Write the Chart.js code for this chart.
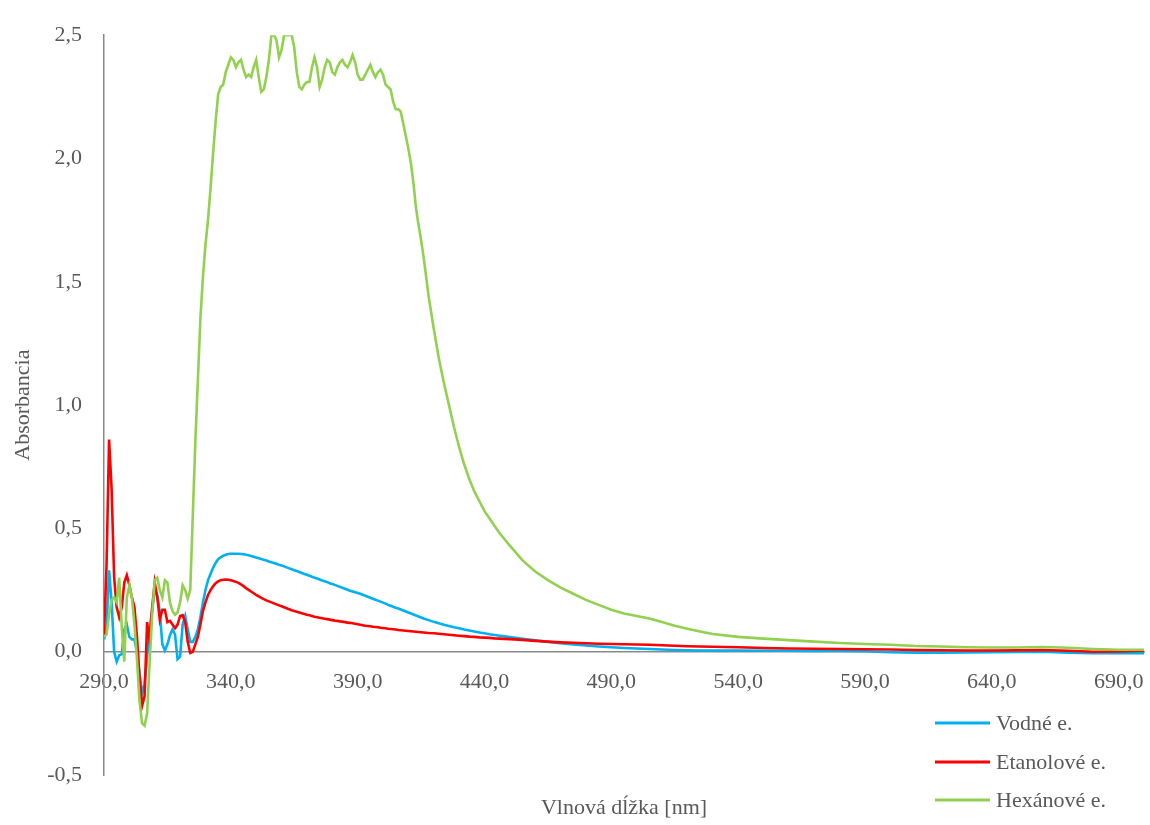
<!DOCTYPE html>
<html>
<head>
<meta charset="utf-8">
<title>Absorbancia</title>
<script src="https://cdn.jsdelivr.net/npm/chart.js@4.4.0/dist/chart.umd.min.js"></script>
<style>
  html, body { margin: 0; padding: 0; background: #ffffff; }
  #wrap { position: relative; width: 1150px; height: 825px; }
</style>
</head>
<body>
<div id="wrap">
  <canvas id="chart" width="1150" height="825"></canvas>
</div>
<script>
// wavelengths [nm]
const wavelengths = [
  290, 291, 292, 293, 294, 295, 296, 297, 298, 299,
  300, 301, 302, 303, 304, 305, 306, 307, 308, 309,
  310, 311, 312, 313, 314, 315, 316, 317, 318, 319,
  320, 321, 322, 323, 324, 325, 326, 327, 328, 329,
  330, 331, 332, 333, 334, 335, 336, 337, 338, 339,
  340, 341, 342, 343, 344, 345, 346, 347, 348, 349,
  350, 351, 352, 353, 354, 355, 356, 357, 358, 359,
  360, 361, 362, 363, 364, 365, 366, 367, 368, 369,
  370, 371, 372, 373, 374, 375, 376, 377, 378, 379,
  380, 381, 382, 383, 384, 385, 386, 387, 388, 389,
  390, 391, 392, 393, 394, 395, 396, 397, 398, 399,
  400, 401, 402, 403, 404, 405, 406, 407, 408, 409,
  410, 411, 412, 413, 414, 415, 416,
  418, 420, 422, 424, 426, 428, 430, 432, 434, 436, 438, 440, 442, 444, 446, 448, 450,
  455, 460, 465, 470, 475, 480, 485, 490, 495, 500, 505, 510, 515, 520, 525, 530,
  540, 550, 560, 570, 580, 590, 600, 610, 620, 630, 640, 650, 660, 670, 680, 690, 700
];

const vodne = [
  0.05, 0.10, 0.33, 0.20, 0.0, -0.04, -0.015, -0.01, 0.09, 0.11,
  0.06, 0.05, 0.05, 0.0, -0.09, -0.17, -0.13, -0.02, 0.09, 0.17,
  0.25, 0.23, 0.16, 0.03, 0.005, 0.03, 0.067, 0.09, 0.07, -0.03,
  -0.02, 0.11, 0.145, 0.09, 0.04, 0.04, 0.06, 0.09, 0.14, 0.2,
  0.25, 0.29, 0.315, 0.34, 0.36, 0.375, 0.383, 0.389, 0.393, 0.396,
  0.397, 0.397, 0.397, 0.397, 0.396, 0.395, 0.393, 0.391, 0.388, 0.385,
  0.382, 0.379, 0.376, 0.373, 0.370, 0.366, 0.363, 0.36, 0.357, 0.353,
  0.35, 0.346, 0.342, 0.338, 0.334, 0.33, 0.327, 0.323, 0.319, 0.315,
  0.312, 0.308, 0.304, 0.3, 0.297, 0.293, 0.289, 0.286, 0.282, 0.278,
  0.275, 0.271, 0.267, 0.263, 0.259, 0.255, 0.251, 0.247, 0.244, 0.241,
  0.238, 0.235, 0.231, 0.227, 0.223, 0.219, 0.215, 0.211, 0.207, 0.203,
  0.199, 0.195, 0.19, 0.186, 0.182, 0.178, 0.175, 0.171, 0.167, 0.163,
  0.159, 0.155, 0.151, 0.147, 0.143, 0.139, 0.135,
  0.128, 0.121, 0.115, 0.109, 0.104, 0.099, 0.095, 0.09, 0.086, 0.082, 0.078, 0.075, 0.071, 0.068, 0.065, 0.062, 0.059,
  0.052, 0.046, 0.04, 0.034, 0.029, 0.025, 0.021, 0.018, 0.015, 0.013, 0.011, 0.009, 0.007, 0.006, 0.005, 0.005,
  0.005, 0.004, 0.004, 0.003, 0.003, 0.002, -0.002, -0.004, -0.004, -0.003, -0.002, -0.001, 0.0, -0.004, -0.006, -0.006, -0.006
];

const etanolove = [
  0.07, 0.35, 0.86, 0.66, 0.30, 0.18, 0.14, 0.18, 0.28, 0.31,
  0.27, 0.22, 0.18, 0.06, -0.10, -0.22, -0.18, 0.12, 0.04, 0.18,
  0.28, 0.22, 0.13, 0.17, 0.17, 0.12, 0.125, 0.11, 0.095, 0.11,
  0.145, 0.148, 0.12, 0.04, -0.005, 0.0, 0.03, 0.06, 0.11, 0.165,
  0.2, 0.23, 0.25, 0.265, 0.278, 0.285, 0.29, 0.292, 0.293, 0.292,
  0.29, 0.287, 0.283, 0.279, 0.273, 0.266, 0.258, 0.251, 0.244, 0.237,
  0.23, 0.224, 0.218, 0.213, 0.208, 0.204, 0.2, 0.196, 0.192, 0.188,
  0.184, 0.18, 0.176, 0.172, 0.168, 0.165, 0.162, 0.159, 0.156, 0.153,
  0.15, 0.148, 0.145, 0.142, 0.14, 0.138, 0.136, 0.134, 0.132, 0.13,
  0.128, 0.126, 0.125, 0.123, 0.122, 0.12, 0.118, 0.117, 0.115, 0.113,
  0.111, 0.109, 0.107, 0.105, 0.104, 0.103, 0.101, 0.1, 0.099, 0.097,
  0.096, 0.095, 0.093, 0.092, 0.091, 0.09, 0.088, 0.087, 0.086, 0.085,
  0.084, 0.083, 0.082, 0.081, 0.08, 0.079, 0.078,
  0.076, 0.075, 0.073, 0.071, 0.069, 0.067, 0.065, 0.063, 0.061, 0.06, 0.058, 0.057, 0.056, 0.054, 0.053, 0.052, 0.051,
  0.048, 0.044, 0.041, 0.038, 0.036, 0.034, 0.032, 0.031, 0.03, 0.029, 0.028, 0.026, 0.024, 0.022, 0.021, 0.02,
  0.018, 0.015, 0.013, 0.012, 0.011, 0.01, 0.009, 0.007, 0.006, 0.005, 0.005, 0.006, 0.007, 0.004, 0.0, 0.001, 0.004
];

const hexanove = [
  0.06, 0.07, 0.15, 0.21, 0.22, 0.2, 0.30, 0.1, -0.04, 0.22,
  0.27, 0.22, 0.11, -0.03, -0.2, -0.29, -0.3, -0.25, -0.04, 0.15,
  0.29, 0.30, 0.25, 0.22, 0.29, 0.28, 0.2, 0.165, 0.15, 0.16,
  0.2, 0.27, 0.25, 0.215, 0.25, 0.55, 0.85, 1.1, 1.35, 1.52,
  1.65, 1.75, 1.88, 2.02, 2.15, 2.26, 2.29, 2.3, 2.35, 2.38,
  2.41, 2.40, 2.37, 2.39, 2.40, 2.36, 2.33, 2.34, 2.33, 2.37,
  2.40, 2.33, 2.27, 2.28, 2.33, 2.40, 2.50, 2.50, 2.48, 2.41,
  2.44, 2.50, 2.50, 2.50, 2.50, 2.45, 2.35, 2.29, 2.28, 2.30,
  2.31, 2.31, 2.37, 2.41, 2.37, 2.29, 2.32, 2.37, 2.40, 2.39,
  2.35, 2.34, 2.37, 2.39, 2.40, 2.38, 2.37, 2.39, 2.42, 2.39,
  2.34, 2.32, 2.32, 2.34, 2.36, 2.38, 2.35, 2.33, 2.35, 2.36,
  2.34, 2.30, 2.29, 2.28, 2.23, 2.20, 2.20, 2.19, 2.14, 2.09,
  2.04, 1.98, 1.90, 1.80, 1.73, 1.67, 1.60,
  1.44, 1.31, 1.19, 1.09, 1.00, 0.91, 0.83, 0.76, 0.70, 0.65, 0.61, 0.57, 0.54, 0.51, 0.48, 0.455, 0.43,
  0.37, 0.325, 0.29, 0.26, 0.235, 0.21, 0.19, 0.17, 0.155, 0.145, 0.135, 0.12, 0.105, 0.093, 0.082, 0.072,
  0.06, 0.053, 0.047, 0.041, 0.035, 0.031, 0.028, 0.023, 0.021, 0.018, 0.017, 0.017, 0.019, 0.016, 0.011, 0.008, 0.008
];

const seriesNames = ['Vodné e.', 'Etanolové e.', 'Hexánové e.'];
const seriesColors = ['#00B0F0', '#FF0000', '#92D050'];

const xTicks = [290, 340, 390, 440, 490, 540, 590, 640, 690];
const yTicks = [-0.5, 0, 0.5, 1.0, 1.5, 2.0, 2.5];

const xTitle = 'Vlnová dĺžka [nm]';
const yTitle = 'Absorbancia';

const FONT = "'Liberation Serif', 'Times New Roman', serif";
const TEXT = '#595959';
const AXIS = '#898989';

// decimal comma like the original sheet
const fmt = (v) => Number(v).toFixed(1).replace('.', ',');

const toPoints = (arr) => wavelengths.map((w, i) => ({ x: w, y: arr[i] }));

// legend drawn below the plot on the right, as in the sheet
const sideLegend = {
    id: 'sideLegend',
    afterDraw(chart) {
        const ctx = chart.ctx;
        const rows = [723, 762, 800];
        ctx.save();
        ctx.font = '22px ' + FONT;
        ctx.textBaseline = 'middle';
        ctx.textAlign = 'left';
        chart.data.datasets.forEach((ds, i) => {
            const y = rows[i];
            ctx.strokeStyle = ds.borderColor;
            ctx.lineWidth = 3;
            ctx.beginPath();
            ctx.moveTo(935, y);
            ctx.lineTo(990, y);
            ctx.stroke();
            ctx.fillStyle = TEXT;
            ctx.fillText(ds.label, 996, y + 1);
        });
        ctx.restore();
    }
};

const ctx = document.getElementById('chart').getContext('2d');

new Chart(ctx, {
    type: 'line',
    data: {
        datasets: [
            { label: seriesNames[0], data: toPoints(vodne), borderColor: seriesColors[0], order: 2 },
            { label: seriesNames[1], data: toPoints(etanolove), borderColor: seriesColors[1], order: 1 },
            { label: seriesNames[2], data: toPoints(hexanove), borderColor: seriesColors[2], order: 0 }
        ]
    },
    options: {
        responsive: false,
        animation: false,
        devicePixelRatio: 1,
        layout: { padding: { left: 0, top: 25, right: 6, bottom: 50 } },
        elements: {
            line: { borderWidth: 2.6, tension: 0, fill: false },
            point: { radius: 0, hoverRadius: 0 }
        },
        plugins: {
            legend: { display: false },
            tooltip: { enabled: false }
        },
        scales: {
            x: {
                type: 'linear',
                position: { y: 0 },
                min: 290,
                max: 700,
                afterBuildTicks: (scale) => {
                    scale.ticks = xTicks.map(v => ({ value: v }));
                },
                // labels must not push the plot edges inwards
                afterFit: (scale) => {
                    scale.paddingLeft = 0;
                    scale.paddingRight = 0;
                },
                grid: { display: false, drawTicks: false },
                border: { display: true, color: AXIS, width: 1.5 },
                ticks: {
                    padding: 17,
                    color: TEXT,
                    font: { family: FONT, size: 22 },
                    maxRotation: 0,
                    autoSkip: false,
                    callback: (v) => fmt(v)
                },
                title: {
                    display: true,
                    text: xTitle,
                    color: TEXT,
                    font: { family: FONT, size: 22 },
                    padding: { top: 83, bottom: 0 }
                }
            },
            y: {
                type: 'linear',
                position: 'left',
                min: -0.5,
                max: 2.5,
                afterBuildTicks: (scale) => {
                    scale.ticks = yTicks.map(v => ({ value: v }));
                },
                afterFit: (scale) => { scale.width = 104; },
                grid: { display: false, drawTicks: false },
                border: { display: true, color: AXIS, width: 1.5 },
                ticks: {
                    padding: 22,
                    color: TEXT,
                    font: { family: FONT, size: 22 },
                    callback: (v) => fmt(v)
                },
                title: {
                    display: true,
                    text: yTitle,
                    color: TEXT,
                    font: { family: FONT, size: 22 },
                    padding: { top: 10, bottom: 0 }
                }
            }
        }
    },
    plugins: [sideLegend]
});
</script>
</body>
</html>
